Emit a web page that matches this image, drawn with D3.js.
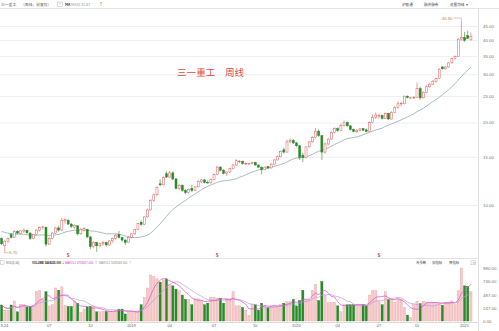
<!DOCTYPE html>
<html><head><meta charset="utf-8">
<script src="https://cdn.jsdelivr.net/npm/d3@7"></script>
<style>
body{margin:0;background:#fff}
svg{display:block;font-family:"Noto Sans CJK SC","Noto Sans","Liberation Sans",sans-serif}
</style>
</head><body>
<svg id="c" width="499" height="331"></svg>
<script>
// ---- data (weekly, 前复权) ----
const open = [7.55,7.10,7.35,7.80,7.62,8.02,7.88,8.00,8.08,7.90,7.55,7.80,8.10,8.28,8.30,7.20,7.55,7.90,8.25,8.10,
8.75,8.80,8.52,8.30,8.40,7.85,8.10,8.15,7.65,7.05,7.30,7.10,7.22,7.30,7.15,7.40,7.55,7.80,7.60,7.45,
7.30,7.62,7.85,8.15,8.65,8.50,9.05,9.60,10.40,10.90,11.95,11.85,13.00,12.65,13.10,12.45,11.50,11.80,11.30,11.10,
11.50,11.30,11.65,12.20,12.35,12.10,12.05,12.40,12.90,13.75,13.40,13.05,13.20,13.60,14.00,14.40,14.45,14.10,14.15,14.15,
14.30,14.00,13.75,13.45,13.80,13.65,14.10,14.60,15.00,15.90,15.60,17.00,17.20,16.85,16.45,15.20,14.90,16.30,17.00,17.60,
18.60,17.90,15.60,16.70,17.40,18.40,19.00,18.70,19.50,20.00,19.45,18.85,18.50,18.75,19.00,18.80,18.55,20.00,20.90,21.00,
21.20,20.70,21.60,20.60,21.80,22.70,23.40,23.40,24.95,24.50,24.60,24.70,26.60,24.60,25.80,27.00,27.60,28.30,28.90,31.90,
31.40,31.90,33.00,34.20,34.80,40.30,40.80,41.50,40.20];
const high = [7.62,7.45,7.62,7.88,8.10,8.08,8.12,8.20,8.12,7.95,7.85,8.15,8.35,8.40,8.35,7.65,7.95,8.30,8.40,8.97,
8.95,8.88,8.60,8.50,8.45,8.25,8.30,8.20,7.70,7.40,7.35,7.30,7.40,7.35,7.45,7.60,7.85,8.05,7.65,7.50,
7.70,7.90,8.20,8.60,8.80,9.10,9.70,10.50,11.00,11.70,12.40,12.70,13.25,13.30,13.25,12.55,11.95,11.90,11.45,11.50,
11.85,11.70,12.30,12.45,12.45,12.30,12.50,13.00,13.90,13.85,13.50,13.30,13.70,14.10,14.70,14.60,14.50,14.30,14.25,14.40,
14.40,14.05,13.80,13.80,13.90,14.20,14.70,15.10,15.80,16.20,17.30,17.50,17.40,17.00,16.55,15.50,16.40,17.10,17.80,19.10,
18.90,18.00,16.90,17.60,18.60,19.20,19.20,19.80,20.40,20.20,19.55,19.00,18.90,19.10,19.10,19.05,20.20,21.40,21.80,21.50,
21.40,21.80,21.70,22.00,22.90,23.90,23.80,25.10,25.10,24.80,25.00,28.00,27.00,26.00,27.30,27.90,28.60,29.10,31.60,32.10,
32.10,33.20,34.50,35.10,40.60,46.90,42.80,43.20,42.60];
const low = [7.15,6.70,7.28,7.55,7.58,7.82,7.82,7.92,7.85,7.45,7.50,7.75,8.00,8.15,7.05,7.15,7.50,7.85,8.00,8.05,
8.55,8.45,8.25,8.20,7.75,7.80,8.00,7.55,6.90,6.95,6.75,7.00,7.10,7.05,7.10,7.30,7.45,7.55,7.35,7.15,
7.40,7.55,7.80,8.10,8.40,8.45,9.00,9.55,10.30,10.80,11.70,11.80,12.55,12.55,12.30,11.40,11.35,11.20,10.95,11.00,
11.15,11.25,11.60,12.05,12.00,11.95,12.00,12.35,12.85,13.25,12.95,12.75,13.10,13.50,13.95,14.20,14.05,14.00,14.05,14.05,
13.90,13.65,12.95,13.40,13.55,13.60,14.05,14.55,14.95,15.40,15.55,16.80,16.70,16.30,14.60,14.35,14.80,16.20,16.90,17.50,
17.70,14.60,15.40,16.50,17.30,18.30,18.50,18.60,19.30,19.30,18.70,18.40,18.30,18.55,18.60,18.40,18.50,19.90,20.60,20.60,
20.50,20.60,20.40,20.50,21.70,22.50,22.90,23.30,24.50,24.40,24.40,24.60,24.20,24.50,25.60,26.80,27.40,28.00,28.80,31.20,
31.20,31.70,32.80,33.90,34.70,39.80,39.40,40.40,39.70];
const close = [7.22,7.38,7.55,7.62,8.02,7.90,8.05,8.10,7.92,7.55,7.80,8.10,8.28,8.32,7.20,7.55,7.90,8.25,8.10,8.80,
8.85,8.52,8.35,8.42,7.85,8.15,8.20,7.65,7.05,7.30,7.10,7.22,7.30,7.15,7.40,7.55,7.75,7.62,7.45,7.30,
7.62,7.85,8.15,8.55,8.50,9.05,9.60,10.40,10.90,11.60,11.85,12.60,12.65,13.10,12.45,11.50,11.80,11.30,11.10,11.40,
11.30,11.65,12.20,12.35,12.10,12.05,12.40,12.90,13.75,13.40,13.05,13.20,13.60,14.00,14.50,14.45,14.15,14.20,14.18,14.30,
14.00,13.75,13.45,13.75,13.65,14.10,14.60,15.00,15.70,15.60,17.00,17.20,16.85,16.45,14.90,14.90,16.30,17.00,17.60,18.60,
17.90,15.60,16.70,17.40,18.40,19.00,18.70,19.50,19.95,19.45,18.85,18.55,18.75,18.95,18.75,18.55,20.00,20.90,21.30,21.20,
20.70,21.60,20.60,21.80,22.70,23.40,23.50,24.95,24.65,24.60,24.70,26.60,24.60,25.80,27.00,27.60,28.30,28.90,31.30,31.40,
31.90,33.00,34.20,34.80,40.30,40.80,39.90,40.60,41.30];
// volume in 万
const volume = [296,200,200,296,370,170,310,300,260,270,280,550,560,400,540,280,300,610,570,630,
290,270,270,370,330,160,220,260,270,280,170,170,180,175,180,180,190,220,220,130,
170,170,170,180,300,440,610,850,820,780,720,760,780,680,650,590,560,480,400,400,
300,410,410,380,300,330,440,440,420,420,330,410,410,540,280,280,250,200,100,300,
300,200,330,290,250,280,280,280,300,330,360,360,400,280,380,570,390,390,570,680,
380,730,470,340,340,340,280,170,300,300,300,300,300,300,300,290,480,560,560,360,
300,540,400,400,340,400,400,250,110,60,300,360,320,360,340,340,340,340,330,290,
350,350,370,300,560,980,650,640,546.8];
// closes of the 19 weeks before the window (read from MA20 level at left edge)
const priorCloses = [8.6,8.5,8.3,8.4,8.2,8.1,8.3,8.4,8.2,8.0,7.9,8.1,8.0,7.8,7.9,7.7,7.6,7.5,7.4];

const priceTicks = [10,15,20,25,30,35,40,45];
const volTicks = [0,247,487,736,980];
const xTickIdx = [0,15,28,41,53,67,80,93,106,119,131,146];
const xTickLabels = ["3.24","07","10","2019","04","07","10","2020","04","07","10","2021"];
const divIdx = [21,68,119];
const minIdx = 1, maxIdx = 145;

// ---- chart ----
const svg = d3.select("#c");
const N = close.length;
const axisX = 478;
const x = d3.scaleBand().domain(d3.range(N)).range([0, 472.5]);
const cx = i => x(i) + x.bandwidth()/2;
const y = d3.scaleLog().domain([6.5, 48]).range([256.3, 18.3]);
const yv = d3.scaleLinear().domain([0, 980]).range([321, 268]);
const UP = "#e25a5a", DOWN = "#2a8a2a";

// frame lines
svg.append("line").attr("x1",0).attr("x2",499).attr("y1",8.5).attr("y2",8.5).attr("stroke","#e4e4e4");
svg.append("line").attr("x1",0).attr("x2",axisX).attr("y1",258.5).attr("y2",258.5).attr("stroke","#e4e4e4");
svg.append("line").attr("x1",axisX+0.5).attr("x2",axisX+0.5).attr("y1",8.5).attr("y2",331).attr("stroke","#e0e0e0");

// grid
const grid = svg.append("g").attr("transform",`translate(${axisX},0)`)
  .call(d3.axisLeft(y).tickValues(priceTicks).tickSize(axisX).tickFormat(""));
grid.select(".domain").remove();
grid.selectAll("line").attr("stroke","#f0f0f0");

// price axis labels
const ya = svg.append("g").attr("transform",`translate(${axisX},0)`)
  .call(d3.axisRight(y).tickValues(priceTicks).tickSize(0).tickPadding(5).tickFormat(d3.format(".2f")));
ya.select(".domain").remove();
ya.selectAll("text").attr("font-size",4.4).attr("fill","#777").attr("font-family","Liberation Sans, sans-serif");

// volume axis
const va = svg.append("g").attr("transform",`translate(${axisX},0)`)
  .call(d3.axisRight(yv).tickValues(volTicks).tickSize(0).tickPadding(5).tickFormat(d3.format(".2f")));
va.select(".domain").remove();
va.selectAll("text").attr("font-size",4.4).attr("fill","#777").attr("font-family","Liberation Sans, sans-serif");

// x axis
svg.append("line").attr("x1",0).attr("x2",axisX).attr("y1",322.5).attr("y2",322.5).attr("stroke","#ddd");
const xa = svg.append("g").attr("transform","translate(0,322)")
  .call(d3.axisBottom(x).tickValues(xTickIdx).tickSize(1.5).tickPadding(1).tickFormat((d,i)=>xTickLabels[i]));
xa.select(".domain").remove();
xa.selectAll("line").attr("stroke","#ccc");
xa.selectAll("text").attr("font-size",4).attr("fill","#666").attr("font-family","Liberation Sans, sans-serif");
xa.selectAll("text").filter((d,i)=>i===0).attr("text-anchor","start").attr("x",-cx(0)+0.5);

// MA20 line
const allC = priorCloses.concat(close);
const ma20 = close.map((c,i)=>d3.mean(allC.slice(i, i+20)));
svg.append("path").datum(ma20).attr("fill","none").attr("stroke","#93a9ad").attr("stroke-width",0.8)
  .attr("d", d3.line().x((d,i)=>cx(i)).y(d=>y(d)));

// candles
const idx = d3.range(N);
const cg = svg.append("g");
cg.selectAll("line.w").data(idx).join("line")
  .attr("x1",cx).attr("x2",cx).attr("y1",i=>y(high[i])).attr("y2",i=>y(low[i]))
  .attr("stroke",i=>close[i]>=open[i]?UP:DOWN).attr("stroke-width",0.6);
cg.selectAll("rect").data(idx).join("rect")
  .attr("x",i=>cx(i)-1).attr("width",2)
  .attr("y",i=>y(Math.max(open[i],close[i])))
  .attr("height",i=>Math.max(0.6, y(Math.min(open[i],close[i]))-y(Math.max(open[i],close[i]))))
  .attr("fill",i=>close[i]>=open[i]?"#fff":DOWN)
  .attr("stroke",i=>close[i]>=open[i]?UP:DOWN).attr("stroke-width",0.5);

// min / max annotations
svg.append("path").attr("d",`M${cx(minIdx)},${y(low[minIdx])}H${cx(minIdx)+4}`).attr("stroke","#d08a50").attr("stroke-width",0.5).attr("fill","none");
svg.append("text").attr("x",cx(minIdx)+4.5).attr("y",y(low[minIdx])+1.5).text(low[minIdx].toFixed(2))
  .attr("font-size",4.2).attr("fill","#d0793a").attr("font-family","Liberation Sans, sans-serif");
svg.append("path").attr("d",`M${cx(maxIdx)-8},${y(high[maxIdx])-3}H${cx(maxIdx)}V${y(high[maxIdx])}`).attr("stroke","#d08a50").attr("stroke-width",0.5).attr("fill","none");
svg.append("text").attr("x",cx(maxIdx)-9).attr("y",y(high[maxIdx])-1.5).attr("text-anchor","end").text(high[maxIdx].toFixed(2))
  .attr("font-size",4.2).attr("fill","#d0793a").attr("font-family","Liberation Sans, sans-serif");

// dividend markers
svg.selectAll("text.div").data(divIdx).join("text").attr("class","div")
  .attr("x",cx).attr("y",256.5).attr("text-anchor","middle").text("S")
  .attr("font-size",4.5).attr("font-weight","bold").attr("fill","#e03030");

// title
svg.append("text").attr("x",177).attr("y",76).text("三一重工　周线")
  .attr("font-size",9.6).attr("fill","#dc4a44");

// volume bars
const vg = svg.append("g");
vg.selectAll("rect").data(idx).join("rect")
  .attr("x",i=>cx(i)-1.1).attr("width",2.2)
  .attr("y",i=>yv(volume[i])).attr("height",i=>yv(0)-yv(volume[i]))
  .attr("fill",i=>close[i]>=open[i]?"#f6caca":DOWN)
  .attr("stroke",i=>close[i]>=open[i]?"#eba3a3":DOWN).attr("stroke-width",0.4);

// volume MAs
const mav = n => volume.map((v,i)=>d3.mean(volume.slice(Math.max(0,i-n+1), i+1)));
svg.append("path").datum(mav(10)).attr("fill","none").attr("stroke","#b89ae6").attr("stroke-width",0.7)
  .attr("d", d3.line().x((d,i)=>cx(i)).y(d=>yv(d)));
svg.append("path").datum(mav(5)).attr("fill","none").attr("stroke","#e04cc4").attr("stroke-width",0.7)
  .attr("d", d3.line().x((d,i)=>cx(i)).y(d=>yv(d)));

// header texts
const T = (x0,y0,s,size,fill,extra)=>{const t=svg.append("text").attr("x",x0).attr("y",y0).text(s).attr("font-size",size).attr("fill",fill); if(extra) extra(t); return t;};
T(1,5.6,"三一重工",3.8,"#333");
T(21,5.6,"（周线，前复权）",3.8,"#666");
svg.append("rect").attr("x",57.5).attr("y",2).attr("width",5).attr("height",4.6).attr("fill","none").attr("stroke","#aaa").attr("stroke-width",0.4);
T(58.9,5.4,"?",3.4,"#888");
T(65,5.6,"MA",3.6,"#333",t=>t.attr("font-weight","bold"));
T(71,5.6,"MA20 31.87",3.6,"#7f9599");
T(99,5.8,"↑",4,"#d33");
T(402,5.6,"沪股通",3.6,"#444");
T(424,5.6,"融资融券",3.6,"#444");
T(450,5.6,"设置均线",3.6,"#444");
T(466,5.6,"▾",3.6,"#666");

const vf = "Liberation Sans, sans-serif";
svg.append("rect").attr("x",0.5).attr("y",260.8).attr("width",3.6).attr("height",3.6).attr("fill","none").attr("stroke","#aaa").attr("stroke-width",0.4);
T(6,263.6,"VOL(5,10)",2.9,"#555",t=>t.attr("font-family",vf));
T(32,263.6,"VOLUME 5468225.000",2.8,"#222",t=>t.attr("font-family",vf).attr("font-weight","bold"));
T(61.5,263.8,"↓",3.2,DOWN);
T(65,263.6,"MAVOL1 6758617.000",2.8,"#cf37c9",t=>t.attr("font-family",vf));
T(94.5,263.8,"↑",3.2,"#cf37c9");
T(99,263.6,"MAVOL2 5033069.300",2.8,"#8a8a8a",t=>t.attr("font-family",vf));
T(128.5,263.8,"↑",3.2,"#8a8a8a");
T(416,263.6,"改参数",3.4,"#444");
T(432,263.6,"加指标",3.4,"#444");
T(449,263.6,"换指标",3.4,"#444");
svg.append("rect").attr("x",471).attr("y",260.8).attr("width",4.2).attr("height",4).attr("fill","none").attr("stroke","#aaa").attr("stroke-width",0.4);
T(472.3,263.9,"×",3.4,"#777");
</script>
</body></html>
